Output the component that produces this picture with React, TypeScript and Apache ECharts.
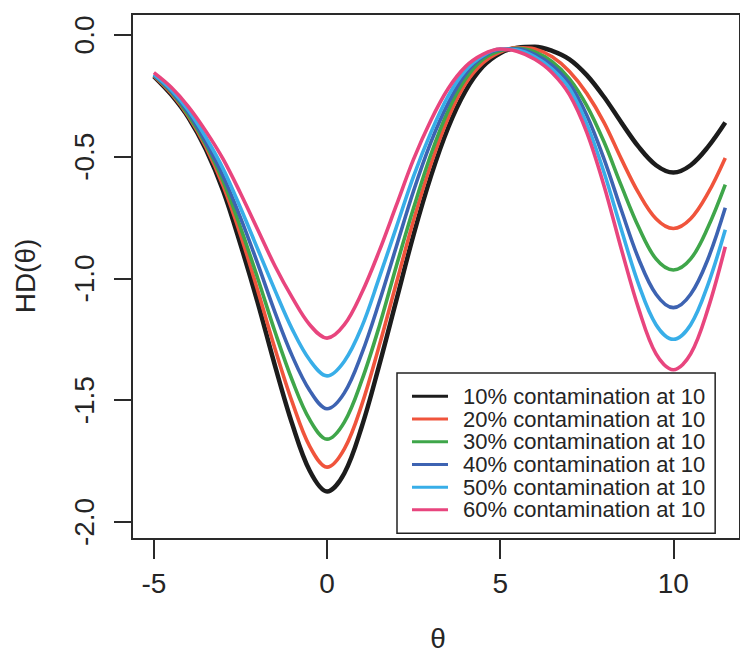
import React, { useEffect, useRef } from "react";
import * as echarts from "echarts";

const thetas = [
  -5, -4.5, -4, -3.5, -3, -2.5, -2, -1.5, -1, -0.5, 0, 0.5, 1, 1.5, 2, 2.5, 3, 3.5,
  4, 4.5, 5, 5.5, 6, 6.5, 7, 7.5, 8, 8.5, 9, 9.5, 10, 10.5, 11, 11.5,
];

const hd10 = [
  -0.17, -0.245, -0.34, -0.47, -0.64, -0.86, -1.1, -1.36, -1.6, -1.79, -1.875, -1.8, -1.61,
  -1.36, -1.09, -0.82, -0.58, -0.38, -0.23, -0.13, -0.075, -0.052, -0.048, -0.065, -0.1,
  -0.165, -0.255, -0.36, -0.46, -0.535, -0.565, -0.535, -0.46, -0.36,
];
const hd20 = [
  -0.168, -0.24, -0.335, -0.46, -0.62, -0.82, -1.05, -1.29, -1.51, -1.69, -1.775, -1.7,
  -1.52, -1.28, -1.02, -0.76, -0.53, -0.34, -0.2, -0.115, -0.07, -0.052, -0.058, -0.09,
  -0.15, -0.24, -0.36, -0.51, -0.65, -0.755, -0.795, -0.755, -0.65, -0.505,
];
const hd30 = [
  -0.166, -0.235, -0.33, -0.45, -0.6, -0.79, -1.0, -1.22, -1.42, -1.58, -1.66, -1.59, -1.42,
  -1.2, -0.95, -0.71, -0.49, -0.31, -0.18, -0.1, -0.065, -0.055, -0.07, -0.11, -0.18, -0.29,
  -0.44, -0.62, -0.79, -0.92, -0.965, -0.92, -0.79, -0.615,
];
const hd40 = [
  -0.165, -0.23, -0.32, -0.44, -0.58, -0.75, -0.94, -1.14, -1.32, -1.46, -1.535, -1.47,
  -1.31, -1.1, -0.87, -0.64, -0.44, -0.28, -0.16, -0.09, -0.06, -0.058, -0.08, -0.125, -0.2,
  -0.33, -0.51, -0.72, -0.92, -1.065, -1.12, -1.065, -0.92, -0.71,
];
const hd50 = [
  -0.162, -0.225, -0.31, -0.42, -0.55, -0.71, -0.88, -1.05, -1.21, -1.335, -1.4, -1.34, -1.2,
  -1.0, -0.79, -0.58, -0.4, -0.25, -0.145, -0.085, -0.058, -0.062, -0.09, -0.14, -0.22,
  -0.365, -0.565, -0.8, -1.025, -1.19, -1.25, -1.19, -1.025, -0.8,
];
const hd60 = [
  -0.155, -0.215, -0.295, -0.395, -0.51, -0.65, -0.8, -0.95, -1.08, -1.19, -1.245, -1.19,
  -1.06, -0.89, -0.7, -0.51, -0.35, -0.22, -0.13, -0.08, -0.058, -0.068, -0.1, -0.155,
  -0.245, -0.4, -0.62, -0.88, -1.125, -1.31, -1.375, -1.31, -1.125, -0.87,
];

const seriesNames = [
  "10% contamination at 10",
  "20% contamination at 10",
  "30% contamination at 10",
  "40% contamination at 10",
  "50% contamination at 10",
  "60% contamination at 10",
];
const seriesValues = [hd10, hd20, hd30, hd40, hd50, hd60];
const seriesColors = ["#1c1c1c", "#f0543c", "#3fa64a", "#3d63b2", "#38aee8", "#e8457e"];
const seriesWidths = [4.5, 3.6, 3.6, 3.6, 3.6, 3.6];

const xTicks = [-5, 0, 5, 10];
const yTicks = [0, -0.5, -1, -1.5, -2];

const FONT = "Liberation Sans, Arial, Helvetica, sans-serif";
const TEXT = "#252525";

export default function App() {
  const ref = useRef<HTMLDivElement>(null);
  useEffect(() => {
    if (!ref.current) return;
    const chart = echarts.init(ref.current, undefined, { renderer: "svg" });
    chart.setOption({
      animation: false,
      backgroundColor: "#ffffff",
      textStyle: { fontFamily: FONT },
      grid: {
        left: 132,
        top: 14,
        right: -3,
        bottom: 120,
        show: true,
        borderColor: "#2a2a2a",
        borderWidth: 2,
        backgroundColor: "transparent",
      },
      xAxis: {
        type: "value",
        min: -5.632,
        max: 11.925,
        position: "bottom",
        axisLine: { show: false, onZero: false },
        splitLine: { show: false },
        axisTick: {
          show: true,
          inside: false,
          customValues: xTicks,
          length: 20,
          lineStyle: { color: "#2a2a2a", width: 2 },
        },
        axisLabel: {
          customValues: xTicks,
          fontSize: 28,
          color: TEXT,
          fontFamily: FONT,
          margin: 30,
          formatter: (v: number) => String(v),
        },
      },
      yAxis: {
        type: "value",
        min: -2.07,
        max: 0.086,
        position: "left",
        axisLine: { show: false, onZero: false },
        splitLine: { show: false },
        axisTick: {
          show: true,
          inside: false,
          customValues: yTicks,
          length: 18,
          lineStyle: { color: "#2a2a2a", width: 2 },
        },
        axisLabel: {
          customValues: yTicks,
          fontSize: 28,
          color: TEXT,
          fontFamily: FONT,
          rotate: 90,
          margin: 34,
          formatter: (v: number) => v.toFixed(1),
        },
      },
      legend: {
        orient: "vertical",
        left: 397,
        top: 373,
        padding: [12, 10, 12, 15],
        itemGap: 0,
        itemWidth: 36,
        itemHeight: 3,
        icon: "rect",
        borderColor: "#222",
        borderWidth: 1.5,
        backgroundColor: "#ffffff",
        textStyle: {
          fontSize: 22,
          lineHeight: 22.7,
          color: TEXT,
          fontFamily: FONT,
          padding: [0, 0, 0, 10],
        },
        data: seriesNames,
      },
      graphic: [
        {
          type: "text",
          x: 25,
          y: 276,
          rotation: Math.PI / 2,
          style: {
            text: "HD(θ)",
            fontSize: 28,
            fontFamily: FONT,
            fill: TEXT,
            align: "center",
            verticalAlign: "middle",
          },
        },
        {
          type: "text",
          x: 438,
          y: 638,
          style: {
            text: "θ",
            fontSize: 28,
            fontFamily: FONT,
            fill: TEXT,
            align: "center",
            verticalAlign: "middle",
          },
        },
      ],
      series: seriesNames.map((name, i) => ({
        name,
        type: "line",
        data: thetas.map((t, j) => [t, seriesValues[i][j]]),
        showSymbol: false,
        symbol: "none",
        smooth: 0.35,
        clip: true,
        lineStyle: { color: seriesColors[i], width: seriesWidths[i] },
        itemStyle: { color: seriesColors[i] },
        z: 2 + i,
      })),
    });
    return () => chart.dispose();
  }, []);
  return (
    <div
      ref={ref}
      style={{ position: "absolute", left: 0, top: 0, width: 740, height: 659 }}
    />
  );
}
